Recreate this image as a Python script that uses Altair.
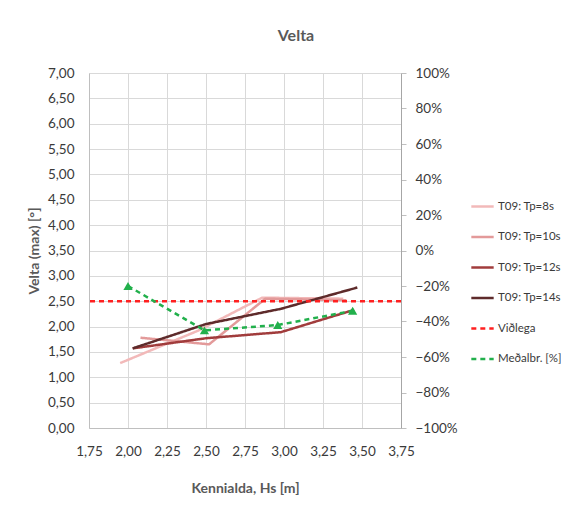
import altair as alt
import pandas as pd

# ---- data ----
series_names = ["T09: Tp=8s", "T09: Tp=10s", "T09: Tp=12s", "T09: Tp=14s", "Viðlega", "Meðalbr. [%]"]
series_colors = ["#f2b9b9", "#e39a9a", "#a13c3c", "#5e2b2b", "#ff2020", "#22b04c"]

hs_8 = [1.95, 2.45, 2.86, 3.38]
velta_8 = [1.28, 1.92, 2.57, 2.55]
hs_10 = [2.08, 2.52, 2.88, 3.40]
velta_10 = [1.78, 1.65, 2.55, 2.52]
hs_12 = [2.03, 2.50, 2.98, 3.45]
velta_12 = [1.57, 1.77, 1.89, 2.33]
hs_14 = [2.03, 2.50, 2.98, 3.47]
velta_14 = [1.57, 2.05, 2.35, 2.77]

vidlega = [2.5]

hs_avg = [2.00, 2.49, 2.96, 3.44]
medalbr = [-0.20, -0.45, -0.42, -0.34]

x_ticks = [1.75, 2.00, 2.25, 2.50, 2.75, 3.00, 3.25, 3.50, 3.75]
y_ticks = [0, 0.5, 1, 1.5, 2, 2.5, 3, 3.5, 4, 4.5, 5, 5.5, 6, 6.5, 7]
y2_ticks = [-1, -0.8, -0.6, -0.4, -0.2, 0, 0.2, 0.4, 0.6, 0.8, 1]

# ---- tables ----
rows = []
for name, xs, ys in [(series_names[0], hs_8, velta_8), (series_names[1], hs_10, velta_10),
                     (series_names[2], hs_12, velta_12), (series_names[3], hs_14, velta_14)]:
    for i, (a, b) in enumerate(zip(xs, ys)):
        rows.append({"hs": a, "velta": b, "series": name, "order": i})
lines_df = pd.DataFrame(rows)
rule_df = pd.DataFrame({"velta": vidlega, "series": [series_names[4]] * len(vidlega)})
avg_df = pd.DataFrame({"hs": hs_avg, "pct": medalbr, "series": [series_names[5]] * len(hs_avg)})

FONT = "Lato, sans-serif"
TXT = "#3a3a3a"

color_scale = alt.Scale(domain=series_names, range=series_colors)
dash_scale = alt.Scale(domain=series_names,
                       range=[[1, 0], [1, 0], [1, 0], [1, 0], [5, 4], [5, 4]])

legend = alt.Legend(
    title=None, orient="none", legendX=381, legendY=121,
    symbolType="stroke", symbolSize=500, symbolStrokeWidth=2.5,
    labelFont=FONT, labelFontSize=11.5, labelColor=TXT, rowPadding=12.5,
    labelOffset=3, labelLimit=200,
)

x_axis = alt.Axis(values=x_ticks, tickCount=40, title="Kennialda, Hs [m]",
                  labelExpr="replace(format(datum.value, '.2f'), '.', ',')",
                  grid=True, ticks=False, labelPadding=16, titlePadding=24,
                  labelFlush=False, labelOverlap=False)
x_scale = alt.Scale(domain=[1.75, 3.75], nice=False, zero=False)

y_scale = alt.Scale(domain=[0, 7], nice=False)
y_axis = alt.Axis(values=y_ticks, tickCount=40, title="Velta (max) [°]",
                  labelExpr="replace(format(datum.value, '.2f'), '.', ',')",
                  grid=True, ticks=False, labelPadding=15, titlePadding=6,
                  labelOverlap=False)

lines = alt.Chart(lines_df).mark_line(strokeWidth=2.5).encode(
    x=alt.X("hs:Q", scale=x_scale, axis=x_axis),
    y=alt.Y("velta:Q", scale=y_scale, axis=y_axis),
    color=alt.Color("series:N", scale=color_scale, legend=legend),
    strokeDash=alt.StrokeDash("series:N", scale=dash_scale, legend=legend),
    order="order:Q",
    detail="series:N",
)

rule = alt.Chart(rule_df).mark_rule(strokeWidth=2.5).encode(
    y=alt.Y("velta:Q", scale=y_scale, axis=y_axis),
    color=alt.Color("series:N", scale=color_scale, legend=legend),
    strokeDash=alt.StrokeDash("series:N", scale=dash_scale, legend=legend),
)

y2_axis = alt.Axis(orient="right", values=y2_ticks, tickCount=40, format=".0%", title=None,
                   grid=False, ticks=True, tickSize=5, tickColor="#bfbfbf",
                   labelPadding=9, domainColor="#a6a6a6", labelOverlap=False)
y2_scale = alt.Scale(domain=[-1, 1], nice=False)

avg_line = alt.Chart(avg_df).mark_line(strokeWidth=2.5).encode(
    x=alt.X("hs:Q", scale=x_scale, axis=x_axis),
    y=alt.Y("pct:Q", scale=y2_scale, axis=y2_axis),
    color=alt.Color("series:N", scale=color_scale, legend=legend),
    strokeDash=alt.StrokeDash("series:N", scale=dash_scale, legend=legend),
)
avg_pts = alt.Chart(avg_df).mark_point(shape="triangle-up", filled=True, size=85,
                                       opacity=1, color="#22b04c").encode(
    x=alt.X("hs:Q", scale=x_scale, axis=x_axis),
    y=alt.Y("pct:Q", scale=y2_scale, axis=y2_axis),
)

left = alt.layer(lines, rule)
right = alt.layer(avg_line, avg_pts)

chart = alt.layer(left, right).resolve_scale(y="independent").properties(
    width=312, height=355,
    autosize=alt.AutoSizeParams(type="none"),
    padding={"left": 81, "top": 65, "right": 160, "bottom": 70},
    title=alt.TitleParams("Velta", font=FONT, fontSize=16, fontWeight="bold",
                          color="#595959", anchor="middle", dx=51, offset=22),
    background="white",
).configure_view(strokeWidth=0).configure_axis(
    labelFont=FONT, labelFontSize=13.5, labelColor=TXT,
    titleFont=FONT, titleFontSize=14, titleColor="#595959", titleFontWeight="bold",
    gridColor="#d9d9d9", domainColor="#bfbfbf",
)

chart.save("out.html", embed_options={"renderer": "svg", "actions": False})
